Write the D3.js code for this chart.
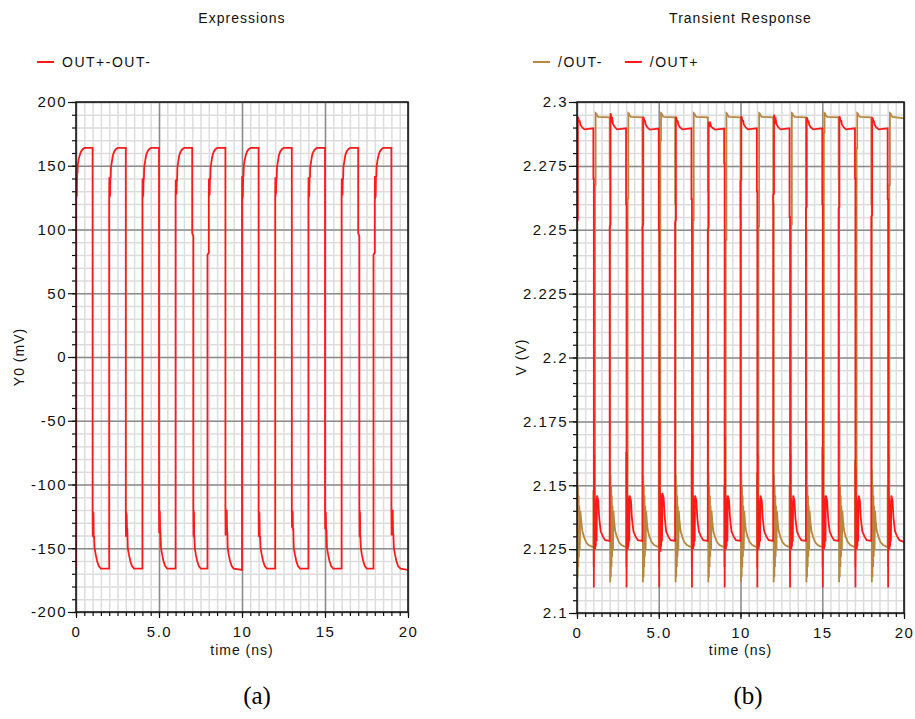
<!DOCTYPE html>
<html><head><meta charset="utf-8">
<script src="https://cdn.jsdelivr.net/npm/d3@7"></script>
<style>
body{margin:0;background:#fff}
</style>
</head><body>
<svg id="chart" width="915" height="719"></svg>
<script>
// ---------- data ----------
const timeTicks = [0,5,10,15,20];
const timeTickLabels = ["0","5.0","10","15","20"];
const exprTicks = [200,150,100,50,0,-50,-100,-150,-200];
const exprTickLabels = ["200","150","100","50","0","-50","-100","-150","-200"];
const tranTicks = [2.3,2.275,2.25,2.225,2.2,2.175,2.15,2.125,2.1];
const tranTickLabels = ["2.3","2.275","2.25","2.225","2.2","2.175","2.15","2.125","2.1"];
const panelTitles = ["Expressions","Transient Response"];
const yAxisTitles = ["Y0 (mV)","V (V)"];
const xAxisTitle = "time (ns)";
const captions = ["(a)","(b)"];
const seriesNames = ["OUT+-OUT-","/OUT-","/OUT+"];

// (a) OUT+ - OUT-  [time ns, mV]
const diffSeries = [
[0,-167],[0,130],[0.01,145],[0.02,125],[0.035,144],[0.05,126],[0.07,145],[0.09,144],[0.11,151],[0.16,155],[0.22,158],[0.3,161],[0.4,163],[0.52,164],[1,164],
[1,-126],[1.01,-141],[1.02,-121],[1.035,-140],[1.05,-122],[1.07,-141],[1.09,-141],[1.12,-150],[1.19,-155],[1.27,-160],[1.37,-164],[1.5,-166],[2,-166],
[2,128],[2.01,141],[2.02,125],[2.035,140],[2.05,126],[2.07,141],[2.09,140],[2.11,149],[2.16,153],[2.22,158],[2.3,161],[2.4,163],[2.52,164],[3,164],
[3,-126],[3.01,-141],[3.02,-121],[3.035,-140],[3.05,-123],[3.07,-134],[3.09,-135],[3.12,-150],[3.19,-155],[3.27,-160],[3.37,-164],[3.5,-166],[4,-166],
[4,127],[4.01,140],[4.02,125],[4.035,139],[4.05,126],[4.07,140],[4.09,140],[4.11,149],[4.16,153],[4.22,158],[4.3,161],[4.4,163],[4.52,164],[5,164],
[5,-119],[5.01,-138],[5.02,-120],[5.035,-137],[5.05,-121],[5.07,-138],[5.09,-138],[5.12,-150],[5.19,-155],[5.27,-160],[5.37,-164],[5.5,-166],[6,-166],
[6,127],[6.01,139],[6.02,127],[6.035,139],[6.05,128],[6.07,139],[6.09,139],[6.11,149],[6.16,153],[6.22,158],[6.3,161],[6.4,163],[6.52,164],[7,164],
[7,97],[7.07,95],[7.07,-121],[7.08,-141],[7.09,-120],[7.1,-140],[7.11,-122],[7.12,-141],[7.13,-141],[7.16,-150],[7.22,-155],[7.3,-160],[7.4,-164],[7.52,-166],[7.92,-166],
[7.92,80],[8,82],[8,127],[8.01,140],[8.02,126],[8.035,139],[8.05,127],[8.07,140],[8.09,140],[8.11,149],[8.16,153],[8.22,158],[8.3,161],[8.4,163],[8.52,164],[9,164],
[9,-119],[9.01,-140],[9.02,-119],[9.03,-139],[9.04,-121],[9.06,-140],[9.08,-120],[9.1,-138],[9.12,-138],[9.14,-150],[9.2,-155],[9.28,-160],[9.38,-164],[9.5,-166],[10,-167],
[10,125],[10.01,142],[10.02,124],[10.035,141],[10.05,125],[10.07,142],[10.09,141],[10.11,150],[10.16,154],[10.22,158],[10.3,161],[10.4,163],[10.52,164],[11,164],
[11,-119],[11.01,-141],[11.02,-121],[11.035,-140],[11.05,-122],[11.07,-141],[11.09,-141],[11.12,-150],[11.19,-155],[11.27,-160],[11.37,-164],[11.5,-166],[12,-166],
[12,128],[12.01,141],[12.02,126],[12.035,140],[12.05,128],[12.07,141],[12.09,140],[12.11,149],[12.16,153],[12.22,158],[12.3,161],[12.4,163],[12.52,164],[13,164],
[13,-119],[13.01,-134],[13.02,-120],[13.035,-134],[13.05,-121],[13.07,-135],[13.09,-135],[13.12,-150],[13.19,-155],[13.27,-160],[13.37,-164],[13.5,-166],[14,-166],
[14,125],[14.01,141],[14.02,125],[14.035,140],[14.05,126],[14.07,141],[14.09,140],[14.11,149],[14.16,153],[14.22,158],[14.3,161],[14.4,163],[14.52,164],[15,164],
[15,-121],[15.01,-135],[15.02,-121],[15.035,-135],[15.05,-122],[15.07,-136],[15.09,-136],[15.12,-150],[15.19,-155],[15.27,-160],[15.37,-164],[15.5,-166],[16,-166],
[16,126],[16.01,140],[16.02,126],[16.035,139],[16.05,127],[16.07,140],[16.09,139],[16.11,149],[16.16,153],[16.22,158],[16.3,161],[16.4,163],[16.52,164],[17,164],
[17,97],[17.07,95],[17.07,-119],[17.08,-141],[17.09,-120],[17.1,-140],[17.11,-122],[17.12,-141],[17.13,-141],[17.16,-150],[17.22,-155],[17.3,-160],[17.4,-164],[17.52,-166],[17.92,-166],
[17.92,80],[18,82],[18,125],[18.01,142],[18.02,124],[18.035,141],[18.05,125],[18.07,142],[18.09,141],[18.11,150],[18.16,154],[18.22,158],[18.3,161],[18.4,163],[18.52,164],[19,164],
[19,-119],[19.01,-140],[19.02,-119],[19.03,-139],[19.04,-121],[19.06,-140],[19.08,-120],[19.1,-138],[19.12,-139],[19.15,-150],[19.22,-155],[19.3,-160],[19.4,-164],[19.55,-166],[20,-167]
];

// (b) /OUT-  [time ns, V]
const outMinusSeries = [
[0,2.14],[0,2.112],[0.02,2.155],[0.04,2.114],[0.06,2.150],[0.08,2.118],[0.1,2.146],[0.12,2.122],[0.14,2.142],[0.17,2.125],[0.2,2.140],[0.26,2.136],[0.33,2.132],[0.42,2.130],[0.55,2.1278],[0.7,2.1266],[1,2.1257],
[1,2.148],[1.02,2.118],[1.04,2.15],[1.08,2.13],[1.1,2.15],[1.1,2.2675],[1.14,2.2675],[1.14,2.2957],[1.18,2.2955],[1.22,2.2948],[1.3,2.2942],[2,2.294],
[2,2.27],[2.03,2.27],[2.03,2.112],[2.05,2.154],[2.07,2.114],[2.09,2.15],[2.11,2.118],[2.13,2.146],[2.15,2.122],[2.17,2.142],[2.2,2.125],[2.23,2.140],[2.27,2.136],[2.34,2.132],[2.43,2.130],[2.56,2.1278],[2.72,2.1266],[3,2.1257],
[3,2.163],[3.02,2.118],[3.04,2.15],[3.08,2.13],[3.1,2.16],[3.1,2.2623],[3.14,2.2623],[3.14,2.2957],[3.18,2.2955],[3.22,2.2948],[3.3,2.2942],[4,2.294],
[4,2.25],[4.03,2.25],[4.03,2.112],[4.05,2.154],[4.07,2.114],[4.09,2.15],[4.11,2.118],[4.13,2.146],[4.15,2.122],[4.17,2.142],[4.2,2.125],[4.23,2.140],[4.27,2.136],[4.34,2.132],[4.43,2.130],[4.56,2.1278],[4.72,2.1266],[5,2.1257],
[5,2.175],[5.02,2.118],[5.04,2.15],[5.08,2.13],[5.1,2.17],[5.1,2.285],[5.14,2.285],[5.14,2.2957],[5.18,2.2955],[5.22,2.2948],[5.3,2.2942],[6,2.294],
[6,2.26],[6.03,2.26],[6.03,2.112],[6.05,2.154],[6.07,2.114],[6.09,2.15],[6.11,2.118],[6.13,2.146],[6.15,2.122],[6.17,2.142],[6.2,2.125],[6.23,2.140],[6.27,2.136],[6.34,2.132],[6.43,2.130],[6.56,2.1278],[6.72,2.1266],[7,2.1257],
[7,2.160],[7.02,2.118],[7.04,2.15],[7.08,2.13],[7.1,2.155],[7.1,2.2538],[7.14,2.2538],[7.14,2.2957],[7.18,2.2955],[7.22,2.2948],[7.3,2.2942],[8,2.294],
[8,2.265],[8.03,2.265],[8.03,2.112],[8.05,2.155],[8.07,2.114],[8.09,2.15],[8.11,2.118],[8.13,2.146],[8.15,2.122],[8.17,2.142],[8.2,2.125],[8.23,2.140],[8.27,2.136],[8.34,2.132],[8.43,2.130],[8.56,2.1278],[8.72,2.1266],[9,2.1257],
[9,2.150],[9.02,2.118],[9.04,2.15],[9.08,2.13],[9.1,2.15],[9.1,2.246],[9.14,2.246],[9.14,2.2957],[9.18,2.2955],[9.22,2.2948],[9.3,2.2942],[10,2.294],
[10,2.255],[10.03,2.255],[10.03,2.112],[10.05,2.155],[10.07,2.114],[10.09,2.15],[10.11,2.118],[10.13,2.146],[10.15,2.122],[10.17,2.142],[10.2,2.125],[10.23,2.140],[10.27,2.136],[10.34,2.132],[10.43,2.130],[10.56,2.1278],[10.72,2.1266],[11,2.1257],
[11,2.155],[11.02,2.118],[11.04,2.15],[11.08,2.13],[11.1,2.155],[11.1,2.2512],[11.14,2.2512],[11.14,2.2957],[11.18,2.2955],[11.22,2.2948],[11.3,2.2942],[12,2.294],
[12,2.26],[12.03,2.26],[12.03,2.112],[12.05,2.154],[12.07,2.114],[12.09,2.15],[12.11,2.118],[12.13,2.146],[12.15,2.122],[12.17,2.142],[12.2,2.125],[12.23,2.140],[12.27,2.136],[12.34,2.132],[12.43,2.130],[12.56,2.1278],[12.72,2.1266],[13,2.1257],
[13,2.150],[13.02,2.118],[13.04,2.15],[13.08,2.13],[13.1,2.15],[13.1,2.252],[13.14,2.252],[13.14,2.2957],[13.18,2.2955],[13.22,2.2948],[13.3,2.2942],[14,2.294],
[14,2.25],[14.03,2.25],[14.03,2.112],[14.05,2.168],[14.07,2.114],[14.09,2.15],[14.11,2.118],[14.13,2.146],[14.15,2.122],[14.17,2.142],[14.2,2.125],[14.23,2.140],[14.27,2.136],[14.34,2.132],[14.43,2.130],[14.56,2.1278],[14.72,2.1266],[15,2.1257],
[15,2.165],[15.02,2.118],[15.04,2.15],[15.08,2.13],[15.1,2.16],[15.1,2.288],[15.14,2.288],[15.14,2.2957],[15.18,2.2955],[15.22,2.2948],[15.3,2.2942],[16,2.294],
[16,2.27],[16.03,2.27],[16.03,2.112],[16.05,2.176],[16.07,2.114],[16.09,2.15],[16.11,2.118],[16.13,2.146],[16.15,2.122],[16.17,2.142],[16.2,2.125],[16.23,2.140],[16.27,2.136],[16.34,2.132],[16.43,2.130],[16.56,2.1278],[16.72,2.1266],[17,2.1257],
[17,2.160],[17.02,2.118],[17.04,2.15],[17.08,2.13],[17.1,2.155],[17.1,2.2819],[17.14,2.2819],[17.14,2.2957],[17.18,2.2955],[17.22,2.2948],[17.3,2.2942],[18,2.294],
[18,2.26],[18.03,2.26],[18.03,2.112],[18.05,2.156],[18.07,2.114],[18.09,2.15],[18.11,2.118],[18.13,2.146],[18.15,2.122],[18.17,2.142],[18.2,2.125],[18.23,2.140],[18.27,2.136],[18.34,2.132],[18.43,2.130],[18.56,2.1278],[18.72,2.1266],[19,2.1257],
[19,2.150],[19.02,2.118],[19.04,2.15],[19.08,2.13],[19.1,2.15],[19.1,2.2675],[19.14,2.2675],[19.14,2.2957],[19.18,2.2955],[19.22,2.2948],[19.3,2.2942],[20,2.2936]
];

// (b) /OUT+  [time ns, V]
const outPlusSeries = [
[0,2.131],[0,2.253],[0.05,2.254],[0.05,2.2942],[0.09,2.2935],[0.13,2.2922],[0.16,2.2928],[0.2,2.2912],[0.3,2.2902],[0.45,2.2893],[0.7,2.2895],[1,2.2897],
[1,2.27],[1.03,2.27],[1.03,2.110],[1.05,2.162],[1.07,2.126],[1.09,2.145],[1.11,2.125],[1.13,2.144],[1.15,2.126],[1.17,2.143],[1.2,2.128],[1.22,2.146],[1.3,2.144],[1.36,2.137],[1.45,2.132],[1.58,2.130],[1.72,2.1285],[2,2.1282],
[2,2.251],[2.05,2.252],[2.05,2.2956],[2.09,2.2945],[2.13,2.2928],[2.16,2.2932],[2.2,2.2914],[2.3,2.2903],[2.45,2.2893],[2.7,2.2895],[3,2.2897],
[3,2.26],[3.03,2.26],[3.03,2.110],[3.05,2.163],[3.07,2.125],[3.09,2.146],[3.11,2.125],[3.13,2.145],[3.15,2.126],[3.17,2.143],[3.2,2.128],[3.22,2.146],[3.3,2.144],[3.36,2.137],[3.45,2.132],[3.58,2.130],[3.72,2.1285],[4,2.1282],
[4,2.251],[4.05,2.252],[4.05,2.2942],[4.09,2.2936],[4.13,2.2922],[4.16,2.2928],[4.2,2.2911],[4.3,2.2901],[4.45,2.2892],[4.7,2.2894],[5,2.2896],
[5,2.25],[5.03,2.25],[5.03,2.110],[5.05,2.176],[5.07,2.125],[5.09,2.147],[5.11,2.124],[5.13,2.146],[5.15,2.126],[5.17,2.144],[5.2,2.128],[5.22,2.147],[5.3,2.145],[5.36,2.138],[5.45,2.132],[5.58,2.130],[5.72,2.1285],[6,2.1282],
[6,2.253],[6.05,2.254],[6.05,2.2942],[6.09,2.2934],[6.13,2.2921],[6.16,2.2927],[6.2,2.2911],[6.3,2.2901],[6.45,2.2893],[6.7,2.2895],[7,2.2897],
[7,2.262],[7.03,2.262],[7.03,2.110],[7.05,2.170],[7.07,2.125],[7.09,2.146],[7.11,2.125],[7.13,2.145],[7.15,2.126],[7.17,2.143],[7.2,2.128],[7.22,2.146],[7.3,2.144],[7.36,2.137],[7.45,2.132],[7.58,2.130],[7.72,2.1285],[8,2.1282],
[8,2.250],[8.05,2.251],[8.05,2.2923],[8.09,2.2918],[8.13,2.2910],[8.16,2.2915],[8.2,2.2905],[8.3,2.2898],[8.45,2.2892],[8.7,2.2894],[9,2.2896],
[9,2.276],[9.03,2.276],[9.03,2.110],[9.05,2.1695],[9.07,2.125],[9.09,2.146],[9.11,2.125],[9.13,2.145],[9.15,2.126],[9.17,2.143],[9.2,2.128],[9.22,2.146],[9.3,2.144],[9.36,2.137],[9.45,2.132],[9.58,2.130],[9.72,2.1285],[10,2.1282],
[10,2.2688],[10.05,2.2695],[10.05,2.2945],[10.09,2.2937],[10.13,2.2923],[10.16,2.2929],[10.2,2.2912],[10.3,2.2902],[10.45,2.2893],[10.7,2.2895],[11,2.2897],
[11,2.265],[11.03,2.265],[11.03,2.110],[11.05,2.1624],[11.07,2.126],[11.09,2.145],[11.11,2.125],[11.13,2.144],[11.15,2.126],[11.17,2.143],[11.2,2.128],[11.22,2.146],[11.3,2.144],[11.36,2.137],[11.45,2.132],[11.58,2.130],[11.72,2.1285],[12,2.1282],
[12,2.2636],[12.05,2.2642],[12.05,2.2950],[12.09,2.2940],[12.13,2.2925],[12.16,2.2930],[12.2,2.2913],[12.3,2.2902],[12.45,2.2893],[12.7,2.2895],[13,2.2897],
[13,2.255],[13.03,2.255],[13.03,2.110],[13.05,2.1624],[13.07,2.126],[13.09,2.145],[13.11,2.125],[13.13,2.144],[13.15,2.126],[13.17,2.143],[13.2,2.128],[13.22,2.146],[13.3,2.144],[13.36,2.137],[13.45,2.132],[13.58,2.130],[13.72,2.1285],[14,2.1282],
[14,2.2584],[14.05,2.259],[14.05,2.2940],[14.09,2.2934],[14.13,2.2921],[14.16,2.2927],[14.2,2.2911],[14.3,2.2901],[14.45,2.2893],[14.7,2.2895],[15,2.2897],
[15,2.26],[15.03,2.26],[15.03,2.110],[15.05,2.162],[15.07,2.126],[15.09,2.146],[15.11,2.125],[15.13,2.145],[15.15,2.126],[15.17,2.143],[15.2,2.128],[15.22,2.146],[15.3,2.144],[15.36,2.137],[15.45,2.132],[15.58,2.130],[15.72,2.1285],[16,2.1282],
[16,2.2584],[16.05,2.259],[16.05,2.2945],[16.09,2.2937],[16.13,2.2923],[16.16,2.2929],[16.2,2.2912],[16.3,2.2902],[16.45,2.2893],[16.7,2.2895],[17,2.2897],
[17,2.27],[17.03,2.27],[17.03,2.110],[17.05,2.157],[17.07,2.126],[17.09,2.145],[17.11,2.125],[17.13,2.144],[17.15,2.126],[17.17,2.143],[17.2,2.128],[17.22,2.146],[17.3,2.144],[17.36,2.137],[17.45,2.132],[17.58,2.130],[17.72,2.1285],[18,2.1282],
[18,2.2551],[18.05,2.2558],[18.05,2.2940],[18.09,2.2934],[18.13,2.2921],[18.16,2.2927],[18.2,2.2911],[18.3,2.2901],[18.45,2.2893],[18.7,2.2895],[19,2.2897],
[19,2.262],[19.03,2.262],[19.03,2.110],[19.05,2.162],[19.07,2.126],[19.09,2.145],[19.11,2.125],[19.13,2.144],[19.15,2.126],[19.17,2.143],[19.2,2.128],[19.22,2.146],[19.3,2.144],[19.36,2.137],[19.45,2.132],[19.58,2.130],[19.72,2.1285],[20,2.1278]
];

// ---------- drawing ----------
const svg = d3.select("#chart");
const RED = "#ff1a1a", BROWN = "#b8873f";
const MINOR = "#dddddd", MAJOR = "#8c8c8c";
const SANS = '"Liberation Sans", Arial, sans-serif';
const SERIF = '"Liberation Serif", "Times New Roman", serif';

function drawPanel(cfg) {
  const x = d3.scaleLinear().domain([0, 20]).range([cfg.left, cfg.right]);
  const y = d3.scaleLinear().domain(cfg.yDomain).range([cfg.bottom, cfg.top]);
  const g = svg.append("g");
  const h = cfg.bottom - cfg.top, w = cfg.right - cfg.left;

  // minor grid
  g.append("g").attr("transform", `translate(0,${cfg.bottom})`)
    .call(d3.axisBottom(x).tickValues(cfg.xMinor).tickSize(-h).tickFormat(""))
    .call(s => { s.select(".domain").remove(); s.selectAll("line").attr("stroke", MINOR).attr("stroke-width", 1.5); });
  g.append("g").attr("transform", `translate(${cfg.left},0)`)
    .call(d3.axisLeft(y).tickValues(cfg.yMinor).tickSize(-w).tickFormat(""))
    .call(s => { s.select(".domain").remove(); s.selectAll("line").attr("stroke", MINOR).attr("stroke-width", 1.5); });
  // major grid
  g.append("g").attr("transform", `translate(0,${cfg.bottom})`)
    .call(d3.axisBottom(x).tickValues(timeTicks).tickSize(-h).tickFormat(""))
    .call(s => { s.select(".domain").remove(); s.selectAll("line").attr("stroke", MAJOR).attr("stroke-width", 1.5); });
  g.append("g").attr("transform", `translate(${cfg.left},0)`)
    .call(d3.axisLeft(y).tickValues(cfg.yTicks).tickSize(-w).tickFormat(""))
    .call(s => { s.select(".domain").remove(); s.selectAll("line").attr("stroke", MAJOR).attr("stroke-width", 1.5); });

  // traces
  const clipId = "clip" + cfg.id;
  svg.append("clipPath").attr("id", clipId).append("rect")
    .attr("x", cfg.left).attr("y", cfg.top).attr("width", w).attr("height", h);
  const line = d3.line().x(d => x(d[0])).y(d => y(d[1]));
  cfg.series.forEach(s => {
    g.append("path").datum(s.data).attr("clip-path", `url(#${clipId})`)
      .attr("fill", "none").attr("stroke", s.color).attr("stroke-width", 1.8)
      .attr("stroke-linejoin", "miter").attr("d", line);
  });

  // frame
  g.append("rect").attr("x", cfg.left).attr("y", cfg.top).attr("width", w).attr("height", h)
    .attr("fill", "none").attr("stroke", "#111").attr("stroke-width", 1.5);

  // axes ticks
  const styleAxis = s => { s.select(".domain").remove(); s.selectAll("line").attr("stroke", "#111").attr("stroke-width", 1.2); };
  g.append("g").attr("transform", `translate(0,${cfg.bottom})`)
    .call(d3.axisBottom(x).tickValues(cfg.xMinor).tickSize(4).tickFormat("")).call(styleAxis);
  g.append("g").attr("transform", `translate(0,${cfg.bottom})`)
    .call(d3.axisBottom(x).tickValues(timeTicks).tickSize(6).tickPadding(8)
      .tickFormat((d, i) => timeTickLabels[i])).call(styleAxis)
    .selectAll("text").attr("font-size", 15).attr("letter-spacing", "1.5px")
      .style("font-family", SANS).attr("fill", "#111");
  g.append("g").attr("transform", `translate(${cfg.left},0)`)
    .call(d3.axisLeft(y).tickValues(cfg.yMinor).tickSize(4).tickFormat("")).call(styleAxis);
  g.append("g").attr("transform", `translate(${cfg.left},0)`)
    .call(d3.axisLeft(y).tickValues(cfg.yTicks).tickSize(8).tickPadding(1)
      .tickFormat((d, i) => cfg.yLabels[i])).call(styleAxis)
    .selectAll("text").attr("font-size", 15).attr("letter-spacing", "1.5px")
      .style("font-family", SANS).attr("fill", "#111");

  // titles
  const cx = (cfg.left + cfg.right) / 2;
  const label = sel => sel.style("font-family", SANS).attr("fill", "#111").attr("font-size", 14).attr("letter-spacing", "1px");
  svg.append("text").attr("x", cx).attr("y", 23).attr("text-anchor", "middle").call(label).text(cfg.title);
  svg.append("text").attr("x", cx).attr("y", 655).attr("text-anchor", "middle").call(label).text(xAxisTitle);
  svg.append("text").attr("transform", `translate(${cfg.yTitleX},357) rotate(-90)`)
    .attr("text-anchor", "middle").call(label).text(cfg.yTitle);
  svg.append("text").attr("x", cfg.captionX).attr("y", 704).attr("text-anchor", "middle")
    .style("font-family", SERIF).attr("font-size", 25).attr("fill", "#000").text(cfg.caption);

  // legend
  let lx = cfg.legendX;
  cfg.series.slice().sort((a, b) => a.legendOrder - b.legendOrder).forEach(s => {
    svg.append("line").attr("x1", lx).attr("x2", lx + 17).attr("y1", 62).attr("y2", 62)
      .attr("stroke", s.color).attr("stroke-width", 2);
    const t = svg.append("text").attr("x", lx + 25).attr("y", 67).call(label)
      .attr("letter-spacing", "1.5px").text(s.name);
    lx += 25 + t.node().getComputedTextLength() + 22;
  });
}

const xMinorTicks = d3.range(0, 41).map(i => i * 0.5);

drawPanel({
  id: "a", left: 76, right: 408, top: 102, bottom: 612,
  yDomain: [-200, 200], yTicks: exprTicks, yLabels: exprTickLabels,
  yMinor: d3.range(-20, 21).map(i => i * 10), xMinor: xMinorTicks,
  title: panelTitles[0], yTitle: yAxisTitles[0], yTitleX: 24, caption: captions[0], captionX: 257,
  legendX: 37,
  series: [{ name: seriesNames[0], color: RED, data: diffSeries, legendOrder: 0 }]
});

drawPanel({
  id: "b", left: 577, right: 904, top: 102, bottom: 613,
  yDomain: [2.1, 2.3], yTicks: tranTicks, yLabels: tranTickLabels,
  yMinor: d3.range(0, 41).map(i => 2.1 + i * 0.005), xMinor: xMinorTicks,
  title: panelTitles[1], yTitle: yAxisTitles[1], yTitleX: 526, caption: captions[1], captionX: 748,
  legendX: 533,
  series: [
    { name: seriesNames[1], color: BROWN, data: outMinusSeries, legendOrder: 0 },
    { name: seriesNames[2], color: RED, data: outPlusSeries, legendOrder: 1 }
  ]
});
</script>
</body></html>
